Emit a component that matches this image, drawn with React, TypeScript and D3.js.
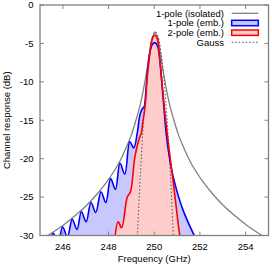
import React from "react";
import * as d3 from "d3";

type P = [number, number];

const xTicks = [246, 248, 250, 252, 254];
const yTicks = [0, -5, -10, -15, -20, -25, -30];

const isolated: P[] = [
  [245.0, -30.6], [245.5, -29.7], [246.0, -28.7], [246.5, -27.5], [247.0, -26.2],
  [247.5, -24.6], [248.0, -22.7], [248.5, -20.3], [248.75, -18.7], [249.0, -16.9],
  [249.2, -15.0], [249.4, -12.8], [249.5, -11.4], [249.6, -9.8], [249.7, -8.1],
  [249.8, -6.1], [249.9, -4.3], [249.95, -4.0], [250.03, -3.5], [250.11, -4.0],
  [250.16, -4.3], [250.26, -6.1], [250.36, -8.1], [250.46, -9.8], [250.56, -11.4],
  [250.66, -12.8], [250.86, -15.0], [251.06, -16.9], [251.31, -18.7], [251.56, -20.3],
  [252.06, -22.7], [252.56, -24.6], [253.06, -26.2], [253.56, -27.5], [254.06, -28.7],
  [254.56, -29.7], [255.0, -30.5],
];

const onePoleEmb: P[] = [
  [245.4, -31.2], [245.58, -29.7], [245.79, -31.0], [245.99, -28.9], [246.2, -30.2],
  [246.41, -27.9], [246.62, -29.2], [246.81, -26.9], [247.02, -28.2], [247.23, -25.7],
  [247.44, -27.0], [247.67, -24.3], [247.88, -25.7], [248.09, -22.6], [248.3, -24.0],
  [248.5, -20.6], [248.71, -22.0], [248.93, -17.8], [249.1, -18.6], [249.26, -16.6],
  [249.36, -14.5], [249.46, -13.6], [249.56, -13.2], [249.64, -11.0], [249.72, -8.0],
  [249.82, -6.0], [249.92, -5.1], [250.03, -4.9], [250.14, -5.3], [250.22, -6.6],
  [250.3, -9.0], [250.4, -12.5], [250.54, -17.2], [250.75, -21.3], [250.97, -24.0],
  [251.26, -26.7], [251.7, -29.7], [251.8, -30.3],
];

const twoPoleEmb: P[] = [
  [248.26, -30.8], [248.42, -28.2], [248.57, -29.0], [248.82, -25.0], [248.96, -24.3],
  [249.15, -19.8], [249.33, -17.5], [249.44, -16.6], [249.5, -15.2], [249.57, -13.9],
  [249.62, -12.5], [249.68, -9.8], [249.78, -7.0], [249.9, -4.6], [250.02, -3.9],
  [250.13, -4.4], [250.24, -7.0], [250.33, -9.8], [250.45, -13.5], [250.6, -17.6],
  [250.85, -23.5], [251.12, -30.0], [251.16, -30.5],
];

const gauss: P[] = [
  [249.25, -31.0], [249.35, -24.6], [249.45, -19.0], [249.55, -14.3], [249.65, -10.4],
  [249.75, -7.4], [249.85, -5.2], [249.95, -3.9], [250.05, -3.5], [250.15, -3.9],
  [250.25, -5.2], [250.35, -7.4], [250.45, -10.4], [250.55, -14.3], [250.65, -19.0],
  [250.75, -24.6], [250.85, -31.0],
];

const legendLabels = ["1-pole (isolated)", "1-pole (emb.)", "2-pole (emb.)", "Gauss"];

export default function App() {
  const W = 272, H = 266;
  const m = { left: 40, top: 5, right: 3.5, bottom: 30.5 };
  const x = d3.scaleLinear().domain([245, 255]).range([m.left, W - m.right]);
  const y = d3.scaleLinear().domain([-30, 0]).range([H - m.bottom, m.top]);
  const font = "'Liberation Sans', Arial, Helvetica, sans-serif";
  const fs = 9.5;

  const line = d3.line<P>().x(d => x(d[0])).y(d => y(d[1])).curve(d3.curveMonotoneX);
  const smooth = d3.line<P>().x(d => x(d[0])).y(d => y(d[1])).curve(d3.curveCatmullRom.alpha(0.5));
  const area = d3.area<P>().x(d => x(d[0])).y0(y(-30)).y1(d => y(d[1])).curve(d3.curveCatmullRom.alpha(0.5));

  const x0 = x.range()[0], x1 = x.range()[1];
  const yb = y(-30), yt = y(0);
  const tick = 4;
  const axisColor = "#808080";

  const legX = 224, sx0 = 231.7, sx1 = 258.3;
  const rows = [13.3, 23, 32.7, 42.3];

  return (
    <svg width={W} height={H} style={{ display: "block", position: "absolute", left: 0, top: 0 }}>
      <defs>
        <clipPath id="plot">
          <rect x={x0} y={yt} width={x1 - x0} height={yb - yt} />
        </clipPath>
      </defs>
      <rect width={W} height={H} fill="#fff" />
      <g clipPath="url(#plot)">
        <path d={area(onePoleEmb) || ""} fill="#c8c8ff" />
        <path d={area(twoPoleEmb) || ""} fill="#ffcccc" />
        <path d={line(isolated) || ""} fill="none" stroke="#808080" strokeWidth={1.3} />
        <path d={line(gauss) || ""} fill="none" stroke="#555" strokeWidth={1} strokeDasharray="1.5,2" />
        <path d={smooth(onePoleEmb) || ""} fill="none" stroke="#0000ff" strokeWidth={1.6} />
        <path d={smooth(twoPoleEmb) || ""} fill="none" stroke="#ff0000" strokeWidth={1.6} />
      </g>
      <rect x={x0} y={yt} width={x1 - x0} height={yb - yt} fill="none" stroke={axisColor} strokeWidth={1.3} />
      {xTicks.map(t => (
        <g key={"x" + t}>
          <line x1={x(t)} x2={x(t)} y1={yb} y2={yb - tick} stroke={axisColor} strokeWidth={1} />
          <line x1={x(t)} x2={x(t)} y1={yt} y2={yt + tick} stroke={axisColor} strokeWidth={1} />
          <text x={x(t)} y={yb + 14} textAnchor="middle" fontFamily={font} fontSize={fs} fill="#000">{t}</text>
        </g>
      ))}
      {yTicks.map(t => (
        <g key={"y" + t}>
          <line x1={x0} x2={x0 + tick} y1={y(t)} y2={y(t)} stroke={axisColor} strokeWidth={1} />
          <line x1={x1} x2={x1 - tick} y1={y(t)} y2={y(t)} stroke={axisColor} strokeWidth={1} />
          <text x={x0 - 6.5} y={y(t) + 3.4} textAnchor="end" fontFamily={font} fontSize={fs} fill="#000">{t}</text>
        </g>
      ))}
      <text x={(x0 + x1) / 2} y={262} textAnchor="middle" fontFamily={font} fontSize={fs} fill="#000">Frequency (GHz)</text>
      <text transform={`translate(9.5,${(yt + yb) / 2}) rotate(-90)`} textAnchor="middle" fontFamily={font} fontSize={fs} fill="#000">Channel response (dB)</text>
      {legendLabels.map((l, i) => (
        <text key={l} x={legX} y={rows[i] + 3.4} textAnchor="end" fontFamily={font} fontSize={fs} fill="#000">{l}</text>
      ))}
      <line x1={sx0} x2={sx1} y1={rows[0]} y2={rows[0]} stroke="#808080" strokeWidth={1.3} />
      <rect x={sx0} y={rows[1] - 2.7} width={sx1 - sx0} height={5.4} fill="#c8c8ff" stroke="#0000ff" strokeWidth={1.5} />
      <rect x={sx0} y={rows[2] - 2.7} width={sx1 - sx0} height={5.4} fill="#ffcccc" stroke="#ff0000" strokeWidth={1.5} />
      <line x1={sx0} x2={sx1} y1={rows[3]} y2={rows[3]} stroke="#555" strokeWidth={1} strokeDasharray="1.5,2" />
    </svg>
  );
}
